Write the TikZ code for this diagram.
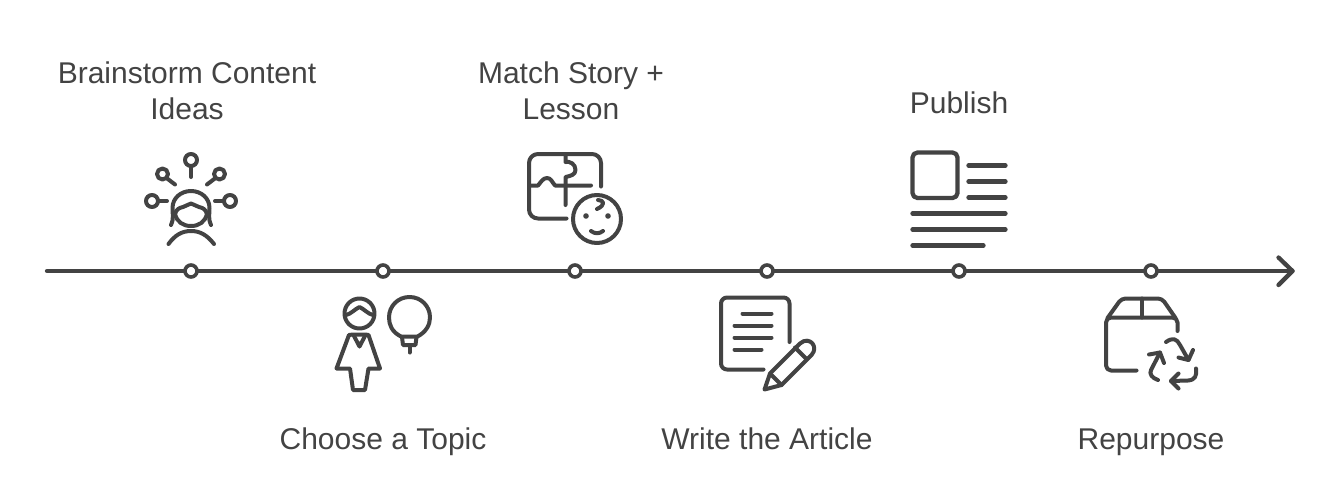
\documentclass[tikz,border=0pt]{standalone}
\usepackage{fontspec}
\setmainfont{Liberation Sans}
\definecolor{ink}{HTML}{434343}
\tikzset{
  ln/.style={draw=ink,line width=4.3pt,line cap=round,line join=round},
  thin ln/.style={draw=ink,line width=4pt,line cap=round,line join=round},
  stop/.style={circle,draw=ink,fill=white,line width=3.6pt,minimum size=12pt,inner sep=0pt},
  lab/.style={text=ink,font=\fontsize{30}{36}\selectfont,align=center,inner sep=0pt,anchor=base}
}
\begin{document}
\begin{tikzpicture}[x=1pt,y=-1pt]
\useasboundingbox (0,0) rectangle (1343,501);
% timeline
\coordinate (start) at (47,271);
\coordinate (tip) at (1292.5,271);
\node[stop] (m1) at (191,271) {};
\node[stop] (m2) at (383,271) {};
\node[stop] (m3) at (575,271) {};
\node[stop] (m4) at (767,271) {};
\node[stop] (m5) at (959,271) {};
\node[stop] (m6) at (1151,271) {};
\draw[ln] (start) -- (m1);
\draw[ln] (m1) -- (m2);
\draw[ln] (m2) -- (m3);
\draw[ln] (m3) -- (m4);
\draw[ln] (m4) -- (m5);
\draw[ln] (m5) -- (m6);
\draw[ln] (m6) -- (tip);
\draw[ln] (1278.5,257.5) -- (tip) -- (1278.5,285);
% labels
\node[lab] (t1a) at (187,83) {Brainstorm Content};
\node[lab] (t1b) at (187,119) {Ideas};
\node[lab] (t2) at (383,449) {Choose a Topic};
\node[lab] (t3a) at (571,83) {Match Story +};
\node[lab] (t3b) at (571,119) {Lesson};
\node[lab] (t4) at (767,449) {Write the Article};
\node[lab] (t5) at (959,113) {Publish};
\node[lab] (t6) at (1151,449) {Repurpose};
% icon 1
\draw[thin ln] (191,160) circle (6);
\draw[thin ln] (191,166) -- (191,177);
\draw[thin ln] (162.5,174) circle (5.5);
\draw[thin ln] (166.5,178) -- (175,184.5);
\draw[thin ln] (219.5,174) circle (5.5);
\draw[thin ln] (215.5,178) -- (207,184.5);
\draw[thin ln] (152,201) circle (6);
\draw[thin ln] (158,201) -- (167,201);
\draw[thin ln] (230,201) circle (6);
\draw[thin ln] (215,201) -- (224,201);
\draw[thin ln] (171,225) .. controls (174,218) and (172.5,215) .. (172.5,208) .. controls (172.5,198) and (181,191) .. (191,191) .. controls (201,191) and (209.5,198) .. (209.5,208) .. controls (209.5,215) and (208,218) .. (211,225);
\draw[thin ln] (175,214) .. controls (176.5,209) and (179,208) .. (183,207) .. controls (186,206) and (189,204) .. (191,203.5) .. controls (193,204) and (196,206) .. (199,207) .. controls (203,208) and (205.5,209) .. (207,214);
\draw[thin ln] (175,214) .. controls (177,222) and (183,226) .. (191,226) .. controls (199,226) and (205,222) .. (207,214);
\draw[thin ln] (168.5,244) .. controls (175,235) and (182,231) .. (191,231) .. controls (200,231) and (207,235) .. (214,244);
% icon 2
\draw[thin ln] (359.5,313.5) circle (15);
\draw[thin ln] (346,315) .. controls (351,314) and (355,309) .. (359.5,307) .. controls (364,309) and (368,314) .. (373,315);
\draw[thin ln] (353,334.5) -- (349,335) -- (336.5,368.5) -- (350,368.5) -- (353,390) -- (365,390) -- (368.5,368.5) -- (380,368.5) -- (368.5,335) -- (365.5,334.5) -- (353,334.5);
\draw[thin ln] (353.5,335) -- (359.5,346.5) -- (365.5,335);
\draw[thin ln] (401,336.5) .. controls (392,332) and (389,325) .. (389,317.5) .. controls (389,306) and (398,297) .. (409.5,297) .. controls (421,297) and (430,306) .. (430,317.5) .. controls (430,325) and (426,332) .. (417.5,336.5) -- cycle;
\draw[thin ln] (402,337) -- (403,345) -- (415.5,345) -- (416.5,337);
\draw[thin ln] (409.5,345) -- (409.5,352.5);
% icon 3
\draw[thin ln,rounded corners=9pt] (601,186.5) -- (601,154) -- (529,154) -- (529,218.5) -- (566.5,218.5);
\draw[thin ln] (565.5,154) -- (565.5,162) .. controls (570,161) and (575.5,164) .. (575.5,170) .. controls (575.5,175) and (570,176) .. (565.5,177) -- (565.5,205);
\draw[thin ln] (529,185.5) -- (538,185.5) .. controls (541,182) and (543,178) .. (547,178) .. controls (551,178) and (552,182) .. (555,185.5) -- (591,185.5);
\draw[thin ln] (597,219) circle (24);
\fill[ink] (586,216) circle (2.8) (608,216) circle (2.8);
\draw[thin ln] (591,231) .. controls (595,234) and (599,234) .. (603,231);
\draw[thin ln] (598,200) .. controls (604,200) and (606,205) .. (597,209);
% icon 4
\draw[thin ln,rounded corners=6pt] (789.5,342) -- (789.5,297.5) -- (721,297.5) -- (721,369.5) -- (763.5,369.5);
\draw[thin ln] (742.5,313.5) -- (771.5,313.5);
\draw[thin ln] (734.5,325.5) -- (771.5,325.5);
\draw[thin ln] (734.5,337.5) -- (771.5,337.5);
\draw[thin ln] (734.5,349.5) -- (761.5,349.5);
\draw[thin ln] (764.5,389.5) -- (770,373.5) -- (800,343.5) .. controls (805,339) and (810,340.5) .. (812.5,343.5) .. controls (815,347) and (815,351) .. (811.5,355) -- (781.5,385) -- cycle;
\draw[thin ln] (771.5,375) -- (781.5,385);
\draw[thin ln] (795,347.5) -- (806.5,359);
% icon 5
\draw[ln,rounded corners=5pt] (912.5,152.5) rectangle (957.5,198);
\draw[ln] (968.5,165.5) -- (1005.5,165.5);
\draw[ln] (968.5,181.5) -- (1005.5,181.5);
\draw[ln] (968.5,197.5) -- (1005.5,197.5);
\draw[ln] (912.5,213.5) -- (1005.5,213.5);
\draw[ln] (912.5,229.5) -- (1005.5,229.5);
\draw[ln] (912.5,245.5) -- (983.5,245.5);
% icon 6
\draw[thin ln,rounded corners=5pt] (1177.5,331) -- (1177.5,317.5) -- (1106,317.5) -- (1106,370.5) -- (1136.5,370.5);
\draw[thin ln,rounded corners=4pt] (1107.5,318) -- (1121.5,298.5) -- (1162,298.5) -- (1175.5,318);
\draw[thin ln] (1142,298.5) -- (1142,317.5);
\draw[thin ln] (1166,342) .. controls (1173,337) and (1177,339) .. (1180,345) -- (1188.5,360);
\draw[thin ln] (1193,350) -- (1188.5,360) -- (1178.5,357.5);
\draw[thin ln] (1196,368.5) .. controls (1197,376) and (1195,380) .. (1188,380.5) -- (1171,381);
\draw[thin ln] (1178.5,373.5) -- (1171,381) -- (1178.5,388.5);
\draw[thin ln] (1158,380) .. controls (1152,378) and (1149,374) .. (1151,370) -- (1160,352.5);
\draw[thin ln] (1149,354.5) -- (1160,352.5) -- (1164,363);
\end{tikzpicture}
\end{document}
